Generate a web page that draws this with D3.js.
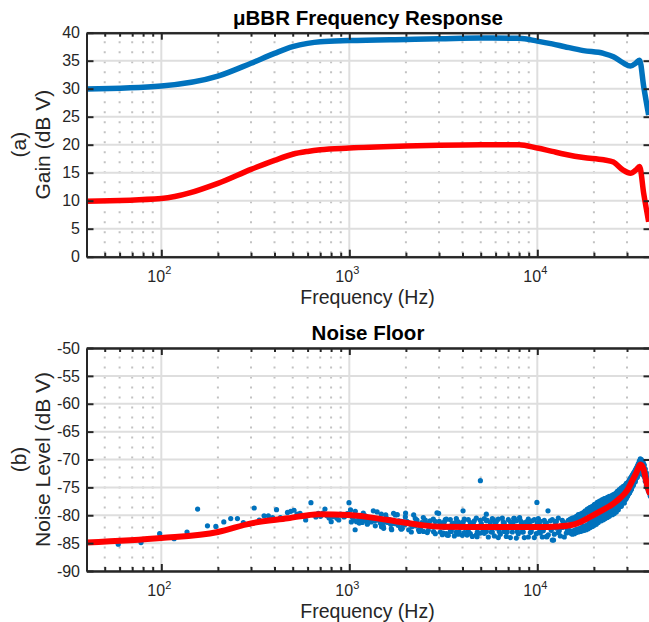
<!DOCTYPE html>
<html>
<head>
<meta charset="utf-8">
<script src="https://cdn.jsdelivr.net/npm/d3@7"></script>
<style>
  body { margin: 0; background: #ffffff; }
  svg { display: block; font-family: "Liberation Sans", Arial, Helvetica, sans-serif; }
</style>
</head>
<body>
<div id="chart"></div>
<script>
// frequency response (top panel)
var gainHz   = [40, 100, 200, 300, 400, 500, 600, 700, 1000, 2000, 3000, 5000, 8000, 10000, 12000, 14000, 17600, 22500, 25400, 28500, 31300, 33500, 35000, 36800, 39100];
var gainBlue = [29.95, 30.5, 32.25, 34.55, 36.3, 37.5, 38.1, 38.4, 38.6, 38.8, 38.9, 39.05, 39.0, 38.5, 38.0, 37.5, 36.8, 36.3, 35.7, 34.65, 34.05, 34.6, 35.1, 30.4, 25.3];
var gainRed  = [9.9, 10.4, 13.1, 15.6, 17.2, 18.3, 18.8, 19.1, 19.4, 19.75, 19.9, 20.0, 20.0, 19.4, 18.8, 18.3, 17.7, 17.3, 16.9, 15.5, 14.9, 15.5, 16.1, 11.3, 6.25];

// noise floor smoothed line (bottom panel)
var noiseLineHz = [40, 100, 200, 300, 470, 690, 1000, 1600, 2400, 3050, 5000, 10000, 13000, 15000, 17000, 19100, 21600, 25400, 27600, 30000, 32000, 33600, 35300, 36700, 38200, 39300, 40000];
var noiseLineDb = [-84.9, -84.1, -83.0, -81.45, -80.55, -79.8, -79.95, -80.85, -81.75, -82.05, -82.1, -82.1, -82.0, -81.8, -81.2, -80.3, -79.3, -77.9, -76.9, -75.6, -73.8, -72.4, -70.9, -71.7, -74.3, -75.7, -76.2];

// scattered noise samples below ~3 kHz and outliers
var dotHz = [59, 78, 98, 117, 137, 156, 176, 195, 215, 234,
  254, 273, 293, 312, 332, 352, 371, 391, 410, 430,
  449, 469, 488, 508, 527, 547, 566, 586, 605, 625,
  645, 664, 684, 703, 723, 742, 762, 781, 801, 820,
  840, 859, 879, 898, 918, 937, 957, 976, 996, 1015,
  1035, 1054, 1074, 1093, 1113, 1133, 1152, 1172, 1191, 1211,
  1230, 1250, 1270, 1289, 1309, 1328, 1348, 1367, 1387, 1406,
  1426, 1445, 1465, 1484, 1504, 1523, 1543, 1562, 1582, 1601,
  1621, 1640, 1660, 1680, 1699, 1719, 1738, 1758, 1777, 1797,
  1816, 1836, 1855, 1875, 1894, 1914, 1933, 1953, 1972, 1992,
  2027, 2069, 2110, 2153, 2200, 2245, 2290, 2335, 2387, 2430,
  2480, 2536, 2580, 2630, 2690, 2753, 2807, 2860, 2927, 2985,
  3310, 4027, 4230, 4780, 4980, 5356, 5860, 7500, 8050, 9950, 11260, 11400, 12200];
var dotDb = [-85.2, -84.9, -83.3, -84.2, -83.0, -78.9, -81.9, -82.0, -81.2, -80.6,
  -80.6, -81.3, -81.6, -78.7, -80.85, -80.1, -80.1, -80.4, -79.0, -80.4,
  -80.6, -79.5, -79.3, -79.1, -79.8, -79.65, -80.2, -80.85, -80.0, -77.75,
  -79.9, -80.3, -79.65, -80.2, -79.6, -78.9, -80.1, -80.5, -81.15, -80.25,
  -79.9, -80.55, -80.85, -79.8, -79.95, -80.3, -80.1, -79.7, -77.75, -79.05,
  -80.3, -80.85, -82.6, -81.15, -81.15, -80.6, -80.9, -81.3, -80.85, -80.6,
  -81.0, -81.45, -81.15, -80.5, -81.2, -80.85, -80.6, -81.0, -80.7, -79.4,
  -80.9, -80.7, -81.45, -82.05, -81.0, -82.35, -81.2, -79.95, -80.55, -81.3,
  -81.15, -80.8, -81.6, -82.6, -81.0, -79.65, -81.5, -79.95, -81.2, -81.45,
  -81.8, -81.0, -81.4, -82.35, -81.1, -82.35, -81.6, -81.2, -81.7, -79.6,
  -81.15, -82.6, -81.6, -82.05, -79.95, -81.9, -80.85, -82.6, -82.35, -81.3,
  -82.9, -80.85, -81.45, -82.7, -81.0, -82.05, -82.95, -81.1, -79.55, -79.65,
  -83.55, -79.2, -83.55, -83.85, -73.8, -79.8, -80.85, -80.55, -80.4, -77.7, -83.85, -79.2, -84.45];

// noise cloud between 1 kHz and 15 kHz, close to the smoothed line
var cloudHz = [1025, 1050, 1076, 1103, 1130, 1158, 1187, 1217, 1247, 1278,
  1309, 1342, 1375, 1409, 1444, 1480, 1517, 1554, 1593, 1632,
  1673, 1714, 1757, 1800, 1845, 1891, 1938, 1986, 2035, 2085,
  2137, 2190, 2244, 2300, 2357, 2415, 2475, 2537, 2599, 2664,
  2730, 2797, 2867, 2938, 3010, 3085, 3161, 3240, 3320, 3402,
  3487, 3573, 3662, 3752, 3845, 3941, 4038, 4138, 4241, 4346,
  4454, 4564, 4677, 4793, 4912, 5034, 5158, 5286, 5417, 5552,
  5689, 5830, 5975, 6123, 6275, 6430, 6590, 6753, 6920, 7092,
  7268, 7448, 7632, 7822, 8015, 8214, 8418, 8626, 8840, 9059,
  9284, 9514, 9750, 9992, 10240, 10494, 10754, 11021, 11294, 11574,
  11861, 12155, 12457, 12766, 13082, 13407, 13739, 14080, 14429];
var cloudDb = [-81.2, -80.1, -79.3, -80.2, -81.4, -80.3, -79.6, -80.1, -81.6, -80.4,
  -80.5, -79.2, -81.9, -80.6, -80.7, -79.8, -82.0, -80.8, -80.9, -81.0,
  -82.4, -80.9, -81.1, -79.9, -81.2, -82.5, -81.3, -80.3, -81.2, -81.4,
  -83.0, -81.5, -80.6, -81.6, -82.9, -81.7, -80.4, -81.7, -83.1, -81.8,
  -82.0, -80.7, -83.3, -82.0, -81.1, -82.1, -83.2, -80.8, -82.1, -82.0,
  -82.9, -82.1, -81.3, -82.0, -83.0, -82.1, -81.2, -82.1, -83.4, -82.0,
  -82.1, -81.4, -82.0, -83.0, -82.1, -81.5, -82.9, -82.1, -80.9, -82.0,
  -83.0, -82.1, -81.3, -82.0, -82.9, -82.1, -81.2, -82.0, -83.0, -82.1,
  -82.0, -81.2, -82.1, -82.9, -82.0, -81.3, -83.0, -82.1, -82.0, -81.5,
  -82.9, -82.1, -82.0, -81.4, -83.0, -82.1, -82.8, -81.5, -82.0, -82.1,
  -82.7, -82.1, -81.2, -82.0, -82.8, -82.0, -81.3, -82.0, -82.5];

// dense part of the noise cloud: upper and lower edge samples
var bandHz = [3048, 3124, 3202, 3281, 3363, 3446, 3532, 3619, 3709, 3801,
  3895, 3992, 4091, 4192, 4296, 4403, 4512, 4624, 4738, 4856,
  4975, 5098, 5226, 5356, 5489, 5623, 5763, 5906, 6053, 6202,
  6356, 6514, 6676, 6841, 7011, 7186, 7362, 7546, 7733, 7924,
  8121, 8322, 8529, 8740, 8957, 9180, 9406, 9639, 9878, 10123,
  10375, 10632, 10896, 11166, 11443, 11725, 12018, 12314, 12621, 12933,
  13254, 13583, 13918, 14265, 14619,
  14980, 15165, 15353, 15540, 15733, 15925, 16122, 16320, 16523, 16725,
  16932, 17140, 17354, 17570, 17783, 18000, 18222, 18450, 18674, 18900,
  19137, 19375, 19613, 19855, 20098, 20345, 20595, 20850, 21108, 21365,
  21629, 21895, 22164, 22440, 22717, 23000, 23281, 23570, 23861, 24155,
  24451, 24750, 25055, 25365, 25679, 26000, 26316, 26640, 26972, 27300,
  27639, 27980, 28323, 28670, 29028, 29390, 29747, 30110, 30479, 30855,
  31237, 31620, 32011, 32410, 32810, 33215, 33622, 34035, 34454, 34880,
  35313, 35750, 36187, 36630, 37083, 37540, 38006, 38475, 38948, 39430, 39914];
var bandUpper = [-81.4, -82.0, -81.2, -80.7, -82.1, -80.8, -81.5, -82.0, -80.6, -81.2,
  -82.0, -81.4, -80.7, -82.1, -80.8, -81.3, -82.0, -81.0, -80.5, -82.1,
  -80.9, -82.0, -80.6, -81.0, -82.1, -81.3, -80.6, -82.0, -81.15, -80.7,
  -82.0, -80.5, -81.4, -82.1, -80.8, -81.2, -82.0, -80.55, -81.0, -82.1,
  -80.9, -81.3, -82.0, -81.2, -80.7, -82.1, -81.0, -80.8, -82.0, -80.6,
  -81.1, -82.1, -80.9, -81.4, -82.0, -81.0, -80.8, -82.1, -81.1, -80.5,
  -82.0, -80.9, -81.3, -82.1, -80.9,
  -80.7, -81.0, -80.5, -80.9, -80.4, -80.7, -80.2, -80.6, -79.9, -80.3,
  -79.8, -80.1, -79.6, -79.9, -79.4, -79.2, -79.5, -78.9, -79.2, -78.7,
  -78.6, -78.9, -78.4, -78.7, -78.1, -78.0, -78.3, -77.7, -78.0, -77.5,
  -77.4, -77.7, -77.2, -77.5, -77.0, -77.0, -77.3, -76.8, -77.1, -76.6,
  -76.7, -76.9, -76.4, -76.7, -76.2, -76.2, -76.0, -75.7, -76.0, -75.4,
  -75.4, -75.1, -75.3, -74.8, -75.0, -74.6, -74.3, -74.5, -74.0, -73.7,
  -73.4, -73.1, -72.8, -72.5, -72.2, -71.9, -71.6, -71.2, -70.8, -70.3,
  -69.9, -70.0, -70.3, -70.6, -71.0, -71.7, -72.4, -73.3, -74.2, -74.9, -75.5];
var bandLower = [-83.0, -83.5, -82.2, -83.3, -83.6, -82.9, -82.3, -83.7, -83.0, -83.4,
  -82.2, -83.6, -83.1, -82.3, -82.9, -83.3, -83.8, -82.2, -83.5, -83.2,
  -83.2, -82.3, -83.25, -82.9, -83.9, -82.2, -83.0, -83.7, -82.3, -84.0,
  -83.4, -82.2, -82.9, -83.8, -82.3, -84.0, -83.0, -82.2, -84.1, -83.3,
  -82.3, -83.0, -84.0, -82.2, -83.9, -83.1, -82.3, -84.0, -83.3, -82.2,
  -83.2, -83.9, -82.3, -83.85, -83.5, -82.2, -84.45, -83.4, -82.3, -83.1,
  -83.7, -82.2, -83.9, -83.2, -82.3,
  -83.2, -82.9, -83.4, -83.0, -83.3, -82.8, -83.1, -82.7, -83.0, -82.6,
  -82.9, -82.5, -82.8, -82.4, -82.7, -82.3, -82.6, -82.2, -82.4, -81.9,
  -82.2, -81.8, -82.0, -81.6, -81.8, -81.4, -81.6, -81.1, -81.3, -80.8,
  -80.7, -81.0, -80.5, -80.8, -80.3, -80.6, -80.1, -80.4, -79.9, -80.2,
  -79.9, -79.6, -79.9, -79.4, -79.7, -79.2, -79.4, -78.8, -79.0, -78.5,
  -78.2, -78.4, -77.9, -77.6, -77.8, -77.2, -77.0, -76.6, -76.3, -76.0,
  -75.7, -75.3, -74.9, -74.5, -74.1, -73.7, -73.3, -72.9, -72.4, -72.1,
  -72.0, -72.1, -72.3, -72.7, -73.1, -73.9, -74.7, -75.1, -75.6, -76.0, -76.6];
// samples just above / below the line on the rising part (15 kHz and up, same Hz as bandHz from 14980)
var riseInner = [-80.9, -82.9, -80.8, -82.8, -80.7, -82.6, -80.5, -82.5, -80.4, -82.4,
  -80.3, -82.2, -80.0, -82.0, -79.8, -81.9, -79.6, -81.7, -79.4, -81.4,
  -79.3, -81.2, -79.1, -81.0, -78.9, -80.8, -78.7, -80.6, -78.5, -80.4,
  -78.3, -80.2, -78.1, -80.0, -77.9, -79.8, -77.7, -79.6, -77.5, -79.4,
  -77.3, -79.2, -77.0, -78.9, -76.8, -78.6, -76.5, -78.3, -76.2, -78.0,
  -75.9, -77.7, -75.6, -77.4, -75.3, -77.1, -75.0, -76.6, -74.5, -76.0,
  -73.9, -75.4, -73.0, -74.6, -72.4, -74.0, -71.6, -73.2, -70.9, -72.6,
  -70.2, -72.5, -70.6, -72.8, -71.6, -73.6, -72.9, -74.9, -74.7, -76.1, -75.6];

// axis ticks
var xMajor = [100, 1000, 10000];
var xMinor = [50, 60, 70, 80, 90, 200, 300, 400, 500, 600, 700, 800, 900,
              2000, 3000, 4000, 5000, 6000, 7000, 8000, 9000, 20000, 30000];
var gainTicks = [0, 5, 10, 15, 20, 25, 30, 35, 40];
var noiseTicks = [-90, -85, -80, -75, -70, -65, -60, -55, -50];

// colours
var blue = "#0072bd", red = "#ff0000", ink = "#262626";

// set the dimensions
var width = 649, height = 622;
var plotLeft = 86.5, plotRight = 650.5;

var svg = d3.select("#chart").append("svg")
    .attr("width", width)
    .attr("height", height);

// shared log frequency scale
var x = d3.scaleLog()
    .domain([40, 40000])
    .range([plotLeft, plotRight]);

function makePanel(name, yTop, yBottom, yDomain, yTicks, title, tag, label) {

  var y = d3.scaleLinear().domain(yDomain).range([yBottom, yTop]);
  var g = svg.append("g").attr("class", name);

  g.append("clipPath").attr("id", "clip-" + name)
    .append("rect")
      .attr("x", plotLeft).attr("y", yTop)
      .attr("width", plotRight - plotLeft).attr("height", yBottom - yTop);

  // minor (dotted) vertical grid
  g.selectAll(".minor").data(xMinor).enter().append("line")
      .attr("x1", function(d) { return x(d); })
      .attr("x2", function(d) { return x(d); })
      .attr("y1", yTop).attr("y2", yBottom)
      .attr("stroke", "#c2c2c2")
      .attr("stroke-width", 2)
      .attr("stroke-dasharray", "2,8")
      .attr("stroke-dashoffset", 1.4);

  // major grid
  g.selectAll(".hgrid").data(yTicks).enter().append("line")
      .attr("x1", plotLeft).attr("x2", plotRight)
      .attr("y1", function(d) { return y(d); })
      .attr("y2", function(d) { return y(d); })
      .attr("stroke", "#dedede").attr("stroke-width", 2);
  g.selectAll(".vgrid").data(xMajor).enter().append("line")
      .attr("x1", function(d) { return x(d); })
      .attr("x2", function(d) { return x(d); })
      .attr("y1", yTop).attr("y2", yBottom)
      .attr("stroke", "#dedede").attr("stroke-width", 2);

  var plot = g.append("g").attr("clip-path", "url(#clip-" + name + ")");

  // title
  g.append("text")
      .attr("x", (plotLeft + plotRight) / 2 - 0.5)
      .attr("y", yTop - 8)
      .attr("text-anchor", "middle")
      .style("font-size", "20.5px")
      .style("font-weight", "bold")
      .attr("fill", "#000")
      .text(title);

  // y label on two lines
  var yl = g.append("text")
      .attr("transform", "translate(26," + ((yTop + yBottom) / 2) + ") rotate(-90)")
      .attr("text-anchor", "middle")
      .style("font-size", "21px")
      .attr("fill", ink);
  yl.append("tspan").attr("x", 0).attr("dy", 0).text(tag);
  yl.append("tspan").attr("x", 0).attr("dy", 24).text(label);

  // x label
  g.append("text")
      .attr("x", (plotLeft + plotRight) / 2 - 1)
      .attr("y", yBottom + 47)
      .attr("text-anchor", "middle")
      .style("font-size", "19.5px")
      .attr("fill", ink)
      .text("Frequency (Hz)");

  return {g: g, plot: plot, y: y, top: yTop, bottom: yBottom};
}

function drawAxes(p, yTicks) {

  function styleAxis(sel) {
    sel.attr("color", ink);
    sel.selectAll("path").attr("stroke-width", 2);
    sel.selectAll("line").attr("stroke-width", 2);
  }

  // bottom and top: minor then major ticks
  [[d3.axisBottom, p.bottom], [d3.axisTop, p.top]].forEach(function(a) {
    p.g.append("g")
        .attr("transform", "translate(0," + a[1] + ")")
        .call(a[0](x).tickValues(xMinor).tickSize(-4).tickSizeOuter(0).tickFormat(""))
        .call(styleAxis);
    p.g.append("g")
        .attr("transform", "translate(0," + a[1] + ")")
        .call(a[0](x).tickValues(xMajor).tickSize(-7).tickSizeOuter(0).tickFormat(""))
        .call(styleAxis);
  });

  // left and right
  p.g.append("g")
      .attr("transform", "translate(" + plotLeft + ",0)")
      .call(d3.axisLeft(p.y).tickValues(yTicks).tickSize(-7).tickSizeOuter(0)
        .tickPadding(6.5).tickFormat(function(d) { return String(d); }))
      .call(styleAxis)
      .selectAll("text")
        .style("font-size", "16px")
        .attr("fill", ink)
        .attr("font-family", null);
  p.g.append("g")
      .attr("transform", "translate(" + plotRight + ",0)")
      .call(d3.axisRight(p.y).tickValues(yTicks).tickSize(-7).tickSizeOuter(0).tickFormat(""))
      .call(styleAxis);

  // decade labels 10^n
  var lab = p.g.selectAll(".xlab").data(xMajor).enter().append("text")
      .attr("x", function(d) { return x(d) - 2; })
      .attr("y", p.bottom + 25)
      .attr("text-anchor", "middle")
      .style("font-size", "16px")
      .attr("fill", ink);
  lab.append("tspan").text("10");
  lab.append("tspan")
      .attr("dy", -7.5)
      .style("font-size", "11px")
      .text(function(d) { return Math.round(Math.log10(d)); });
}

// top panel: gain
var topP = makePanel("gain", 32.7, 256.7, [0, 40], gainTicks,
    "\u03bcBBR Frequency Response", "(a)", "Gain (dB V)");

var gainLine = function(values) {
  return d3.line()
      .curve(d3.curveMonotoneX)
      .x(function(d, i) { return x(gainHz[i]); })
      .y(function(d) { return topP.y(d); })(values);
};

topP.plot.append("path")
    .attr("d", gainLine(gainBlue))
    .attr("fill", "none").attr("stroke", blue).attr("stroke-width", 5.5);
topP.plot.append("path")
    .attr("d", gainLine(gainRed))
    .attr("fill", "none").attr("stroke", red).attr("stroke-width", 5.5);

drawAxes(topP, gainTicks);

// bottom panel: noise floor
var lowP = makePanel("noise", 348, 571, [-90, -50], noiseTicks,
    "Noise Floor", "(b)", "Noise Level (dB V)");

// gather every noise sample into one list of [Hz, dB]
var dots = [];
dotHz.forEach(function(f, i) { dots.push([f, dotDb[i]]); });
cloudHz.forEach(function(f, i) { dots.push([f, cloudDb[i]]); });
bandHz.forEach(function(f, i) {
  dots.push([f, bandUpper[i]]);
  dots.push([f, bandLower[i]]);
});
riseInner.forEach(function(v, i) { dots.push([bandHz[65 + i], v]); });

lowP.plot.selectAll(".dot")
    .data(dots)
  .enter().append("circle")
    .attr("class", "dot")
    .attr("cx", function(d) { return x(d[0]); })
    .attr("cy", function(d) { return lowP.y(d[1]); })
    .attr("r", 2.6)
    .attr("fill", blue);

lowP.plot.append("path")
    .attr("d", d3.line()
        .curve(d3.curveMonotoneX)
        .x(function(d, i) { return x(noiseLineHz[i]); })
        .y(function(d) { return lowP.y(d); })(noiseLineDb))
    .attr("fill", "none").attr("stroke", red).attr("stroke-width", 6);

drawAxes(lowP, noiseTicks);
</script>
</body>
</html>
